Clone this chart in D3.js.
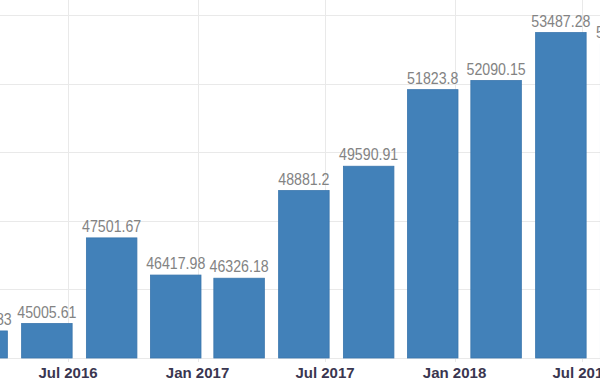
<!DOCTYPE html>
<html>
<head>
<meta charset="utf-8">
<script src="https://cdn.jsdelivr.net/npm/d3@7"></script>
<style>
html,body{margin:0;padding:0;background:#fff;}
svg{display:block;}
</style>
</head>
<body>
<svg id="chart" width="600" height="380"></svg>
<script>
const quarters = ["2016-03","2016-06","2016-09","2016-12","2017-03","2017-06","2017-09","2017-12","2018-03","2018-06","2018-09"];
const values = [44788.83,45005.61,47501.67,46417.98,46326.18,48881.2,49590.91,51823.8,52090.15,53487.28,53160.46];
const labels = ["44788.83","45005.61","47501.67","46417.98","46326.18","48881.2","49590.91","51823.8","52090.15","53487.28","53160.46"];
const yTicks = [44000,46000,48000,50000,52000,54000];
const xTickLabels = ["Jul 2016","Jan 2017","Jul 2017","Jan 2018","Jul 2018"];
const xTickDates = ["2016-07","2017-01","2017-07","2018-01","2018-07"];

const parse = d3.timeParse("%Y-%m");
const svg = d3.select("#chart");

const x = d3.scaleTime()
  .domain([parse("2016-07"), parse("2018-07")])
  .range([68, 582]);
const y = d3.scaleLinear().domain([44000, 54000]).range([358, 15]);

const grid = "#e9e9e9";
svg.append("g").selectAll("line").data(yTicks).join("line")
  .attr("x1", 0).attr("x2", 600)
  .attr("y1", d => Math.round(y(d)) + 0.5).attr("y2", d => Math.round(y(d)) + 0.5)
  .attr("stroke", grid).attr("stroke-width", 1);
svg.append("g").selectAll("line").data(xTickDates).join("line")
  .attr("x1", d => Math.round(x(parse(d))) + 0.5).attr("x2", d => Math.round(x(parse(d))) + 0.5)
  .attr("y1", 0).attr("y2", 362)
  .attr("stroke", grid).attr("stroke-width", 1);

const data = quarters.map((q, i) => ({date: parse(q), value: values[i], label: labels[i]}));
const step = x(d3.timeMonth.offset(parse("2016-06"), 3)) - x(parse("2016-06"));
const bw = step * 0.78;

svg.append("g").selectAll("rect").data(data).join("rect")
  .attr("x", d => x(d.date) - bw / 2)
  .attr("width", bw)
  .attr("y", d => y(d.value))
  .attr("height", d => y(44000) - y(d.value))
  .attr("fill", "#4281b9")
  .attr("stroke", "#3a76ad")
  .attr("stroke-width", 0.8);

svg.append("g").selectAll("text").data(data).join("text")
  .attr("transform", d => `translate(${x(d.date)},${y(d.value) - 6}) scale(0.86,1)`)
  .attr("text-anchor", "middle")
  .attr("font-family", "'Liberation Sans',Arial,sans-serif")
  .attr("font-size", 16.5)
  .attr("fill", "#838383")
  .text(d => d.label);

svg.append("g").selectAll("text").data(xTickDates).join("text")
  .attr("x", d => x(parse(d)))
  .attr("y", 378)
  .attr("text-anchor", "middle")
  .attr("font-family", "'Liberation Sans','Arial',sans-serif")
  .attr("font-size", 15)
  .attr("font-weight", "bold")
  .attr("fill", "#3a3650")
  .text((d, i) => xTickLabels[i]);
</script>
</body>
</html>
